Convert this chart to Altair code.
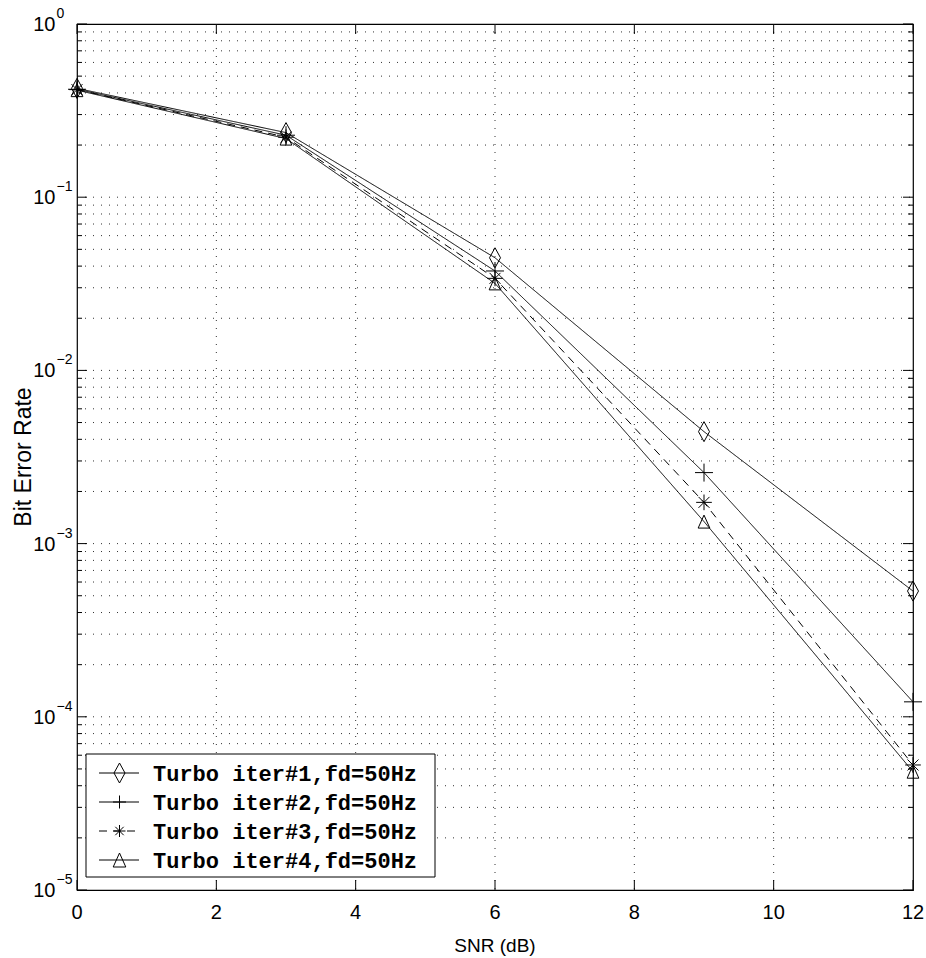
import altair as alt
import pandas as pd

# ---------------- data ----------------
snr = [0, 3, 6, 9, 12]
ber_iter1 = [0.425, 0.236, 0.0447, 0.00443, 0.000532]
ber_iter2 = [0.420, 0.228, 0.0375, 0.00257, 0.000122]
ber_iter3 = [0.418, 0.222, 0.0340, 0.00173, 5.27e-5]
ber_iter4 = [0.415, 0.218, 0.0318, 0.00134, 4.82e-5]
series_labels = ["Turbo iter#1,fd=50Hz", "Turbo iter#2,fd=50Hz",
                 "Turbo iter#3,fd=50Hz", "Turbo iter#4,fd=50Hz"]
x_ticks = [0, 2, 4, 6, 8, 10, 12]
y_decades = [-5, -4, -3, -2, -1, 0]
x_title = "SNR (dB)"
y_title = "Bit Error Rate"

# ---------------- layout / style ----------------
W, H = 836, 866
FONT = "Liberation Sans"
MONO = "Liberation Mono"
diamond = "M0,-1L0.55,0L0,1L-0.55,0Z"
plus = "M-1,0L1,0M0,-1L0,1"
star = "M-1,0L1,0M0,-1L0,1M-0.7,-0.7L0.7,0.7M-0.7,0.7L0.7,-0.7"
triangle = "M0,-1L0.9,1L-0.9,1Z"
shapes = [diamond, plus, star, triangle]
sizes = [400, 169, 144, 196]
dashes = [[1, 0], [1, 0], [8, 6], [1, 0]]

xs = alt.Scale(domain=[0, 12], nice=False, zero=False)
ys = alt.Scale(type="log", domain=[1e-5, 1], nice=False)

rows = []
for lab, vals in zip(series_labels, [ber_iter1, ber_iter2, ber_iter3, ber_iter4]):
    for s, b in zip(snr, vals):
        rows.append({"snr": s, "ber": b, "series": lab})
df = pd.DataFrame(rows)

major_vals = [10.0 ** d for d in y_decades]
minor_vals = [k * 10.0 ** d for d in y_decades[:-1] for k in range(2, 10)]
grid_y = pd.DataFrame({"v": major_vals[1:-1] + minor_vals})
grid_x = pd.DataFrame({"v": x_ticks[1:-1]})
dfmaj = pd.DataFrame({"v": major_vals})
dfmin = pd.DataFrame({"v": minor_vals})
dfx = pd.DataFrame({"v": x_ticks, "t": [str(t) for t in x_ticks]})
dflab = pd.DataFrame({
    "v": major_vals,
    "base": ["10"] * len(major_vals),
    "exp": [("\u2212" + str(-d)) if d < 0 else str(d) for d in y_decades],
})

dot = dict(stroke="#333333", strokeWidth=1, strokeDash=[1, 7])
layers = []

# grid
layers.append(alt.Chart(grid_y).mark_rule(**dot).encode(
    y=alt.Y("v:Q", scale=ys, axis=None), x=alt.value(0), x2=alt.value(W)))
layers.append(alt.Chart(grid_x).mark_rule(**dot).encode(
    x=alt.X("v:Q", scale=xs, axis=None), y=alt.value(0), y2=alt.value(H)))

# inward ticks
tk = dict(stroke="black", strokeWidth=1)
for dfd, ln in [(dfmaj, 10), (dfmin, 5)]:
    layers.append(alt.Chart(dfd).mark_rule(**tk).encode(
        y=alt.Y("v:Q", scale=ys, axis=None), x=alt.value(0), x2=alt.value(ln)))
    layers.append(alt.Chart(dfd).mark_rule(**tk).encode(
        y=alt.Y("v:Q", scale=ys, axis=None), x=alt.value(W - ln), x2=alt.value(W)))
layers.append(alt.Chart(dfx).mark_rule(**tk).encode(
    x=alt.X("v:Q", scale=xs, axis=None), y=alt.value(H - 10), y2=alt.value(H)))
layers.append(alt.Chart(dfx).mark_rule(**tk).encode(
    x=alt.X("v:Q", scale=xs, axis=None), y=alt.value(0), y2=alt.value(10)))

# tick labels
layers.append(alt.Chart(dfx).mark_text(font=FONT, fontSize=20, baseline="middle", align="center").encode(
    x=alt.X("v:Q", scale=xs, axis=None), y=alt.value(H + 22.5), text="t:N"))
layers.append(alt.Chart(dflab).mark_text(font=FONT, fontSize=20, baseline="middle", align="right", dy=1).encode(
    y=alt.Y("v:Q", scale=ys, axis=None), x=alt.value(-21.5), text="base:N"))
layers.append(alt.Chart(dflab).mark_text(font=FONT, fontSize=14, baseline="middle", align="left", dy=-10).encode(
    y=alt.Y("v:Q", scale=ys, axis=None), x=alt.value(-20.5), text="exp:N"))

# titles
layers.append(alt.Chart(pd.DataFrame({"t": [x_title]})).mark_text(
    font=FONT, fontSize=19, baseline="middle", align="center").encode(
    x=alt.value(W / 2), y=alt.value(H + 56), text="t:N"))
layers.append(alt.Chart(pd.DataFrame({"t": [y_title]})).mark_text(
    font=FONT, fontSize=23, baseline="middle", align="center", angle=270).encode(
    x=alt.value(-53), y=alt.value(H / 2), text="t:N"))

# data lines + markers
layers.append(alt.Chart(df).mark_line(color="black", strokeWidth=1).encode(
    x=alt.X("snr:Q", scale=xs, axis=None),
    y=alt.Y("ber:Q", scale=ys, axis=None),
    detail="series:N",
    strokeDash=alt.StrokeDash("series:N", scale=alt.Scale(domain=series_labels, range=dashes), legend=None)))
layers.append(alt.Chart(df).mark_point(filled=False, color="black", strokeWidth=1, opacity=1).encode(
    x=alt.X("snr:Q", scale=xs, axis=None),
    y=alt.Y("ber:Q", scale=ys, axis=None),
    shape=alt.Shape("series:N", scale=alt.Scale(domain=series_labels, range=shapes), legend=None),
    size=alt.Size("series:N", scale=alt.Scale(domain=series_labels, range=sizes), legend=None)))

# legend (manual, Matlab style)
LX0, LX1, LY0, LY1 = 9, 358, 730, 853
one = pd.DataFrame({"a": [0]})
layers.append(alt.Chart(one).mark_rect(fill="white", stroke="black", strokeWidth=1).encode(
    x=alt.value(LX0), x2=alt.value(LX1), y=alt.value(LY0), y2=alt.value(LY1)))
for i, lab in enumerate(series_labels):
    ly = 749 + 29 * i
    layers.append(alt.Chart(one).mark_rule(color="black", strokeWidth=1, strokeDash=dashes[i]).encode(
        x=alt.value(22), x2=alt.value(62), y=alt.value(ly)))
    layers.append(alt.Chart(one).mark_point(filled=False, color="black", strokeWidth=1, opacity=1,
                                            shape=shapes[i], size=sizes[i]).encode(
        x=alt.value(42.5), y=alt.value(ly)))
    layers.append(alt.Chart(pd.DataFrame({"t": [lab]})).mark_text(
        font=MONO, fontWeight="bold", fontSize=22, align="left", baseline="middle").encode(
        x=alt.value(76), y=alt.value(ly + 1), text="t:N"))

chart = alt.layer(*layers).properties(
    width=W, height=H,
    autosize=alt.AutoSizeParams(type="none"),
    padding={"left": 77, "top": 24, "right": 13, "bottom": 68},
    background="white",
).configure_view(stroke="black", strokeWidth=1.2)

chart.save("out.html", embed_options={"renderer": "svg", "actions": False})
